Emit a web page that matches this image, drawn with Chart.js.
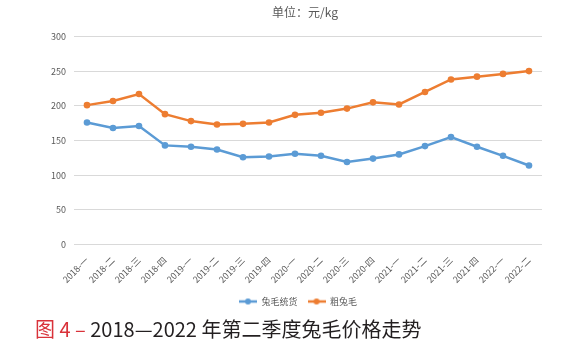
<!DOCTYPE html>
<html>
<head>
<meta charset="utf-8">
<script src="https://cdn.jsdelivr.net/npm/chart.js@4/dist/chart.umd.min.js"></script>
<style>
  body { margin: 0; background: #fff; }
  #wrap { position: relative; width: 575px; height: 345px; }
  #box { position: absolute; left: 0; top: 0; width: 575px; height: 316px; }
  #caption { position: absolute; left: 35px; top: 316px; font: 20px "Noto Sans CJK SC", sans-serif; color: #231f20; white-space: nowrap; line-height: 26px; }
  #caption .fig { color: #d9323a; }
</style>
</head>
<body>
<div id="wrap">
  <div id="box"><canvas id="myChart"></canvas></div>
  <div id="caption"><span class="fig">图 4 –</span> 2018—2022 年第二季度兔毛价格走势</div>
</div>
<script>
const quarters = ['2018-一', '2018-二', '2018-三', '2018-四',
                  '2019-一', '2019-二', '2019-三', '2019-四',
                  '2020-一', '2020-二', '2020-三', '2020-四',
                  '2021-一', '2021-二', '2021-三', '2021-四',
                  '2022-一', '2022-二'];
const tonghuo = [176, 168, 171, 143, 141, 137, 126, 127, 131, 128, 119, 124, 130, 142, 155, 141, 128, 114];
const cutumao = [201, 207, 217, 188, 178, 173, 174, 176, 187, 190, 196, 205, 202, 220, 238, 242, 246, 250];
const yTicks = [0, 50, 100, 150, 200, 250, 300];

const blue = '#5b9bd5';
const orange = '#ed7d31';
const grey = '#595959';
const font = '"Noto Sans CJK SC", sans-serif';

// little line-with-dot marker for the legend
function legendMark(color) {
    const c = document.createElement('canvas');
    c.width = 18; c.height = 8;
    const g = c.getContext('2d');
    g.strokeStyle = color;
    g.lineWidth = 2.5;
    g.beginPath(); g.moveTo(0, 4); g.lineTo(18, 4); g.stroke();
    g.fillStyle = color;
    g.beginPath(); g.arc(9, 4, 3, 0, Math.PI * 2); g.fill();
    return c;
}

function series(label, data, color) {
    return {
        label: label,
        data: data,
        borderColor: color,
        backgroundColor: color,
        borderWidth: 2.5,
        pointStyle: 'circle',
        pointRadius: 3.3,
        pointBorderWidth: 0,
        tension: 0
    };
}

// title and legend sit a bit right of the canvas centre in the original
const nudge = {
    id: 'nudge',
    afterLayout(chart) {
        chart.titleBlock.left += 34;
        chart.titleBlock.right += 34;
        chart.legend.left += 27;
        chart.legend.right += 27;
    }
};

const ctx = document.getElementById('myChart');
new Chart(ctx, {
    type: 'line',
    data: {
        labels: quarters,
        datasets: [
            series('兔毛统货', tonghuo, blue),
            series('粗兔毛', cutumao, orange)
        ]
    },
    plugins: [nudge],
    options: {
        responsive: true,
        maintainAspectRatio: false,
        animation: false,
        layout: { padding: { top: 5, right: 33, left: 0, bottom: 0 } },
        scales: {
            x: {
                offset: true,
                grid: { display: false },
                border: { display: false },
                ticks: {
                    color: grey,
                    font: { family: font, size: 9 },
                    maxRotation: 45,
                    minRotation: 45,
                    autoSkip: false,
                    padding: 2
                }
            },
            y: {
                min: 0,
                max: 300,
                afterFit: function (scale) { scale.width = 74; },
                afterBuildTicks: function (scale) { scale.ticks = yTicks.map(v => ({ value: v })); },
                grid: { color: '#d9d9d9', drawTicks: false, lineWidth: 1 },
                border: { display: false },
                ticks: {
                    color: grey,
                    font: { family: font, size: 9 },
                    padding: 8
                }
            }
        },
        plugins: {
            title: {
                display: true,
                text: '单位：元/kg',
                color: grey,
                font: { family: font, size: 12, weight: 'normal' },
                padding: { top: 0, bottom: 17 }
            },
            legend: {
                position: 'bottom',
                labels: {
                    usePointStyle: true,
                    pointStyleWidth: 18,
                    color: grey,
                    font: { family: font, size: 9 },
                    padding: 10,
                    generateLabels: function (chart) {
                        return chart.data.datasets.map((ds, i) => ({
                            text: ds.label,
                            fillStyle: ds.borderColor,
                            strokeStyle: ds.borderColor,
                            fontColor: grey,
                            lineWidth: 0,
                            pointStyle: legendMark(ds.borderColor),
                            datasetIndex: i
                        }));
                    }
                }
            },
            tooltip: { enabled: false }
        }
    }
});
</script>
</body>
</html>
